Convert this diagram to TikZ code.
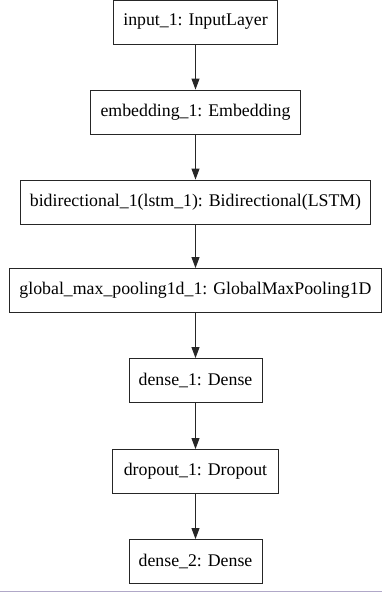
\documentclass[tikz,border=0pt]{standalone}
\usepackage{fontspec}
\setmainfont{Liberation Serif}
\usetikzlibrary{arrows.meta}
\begin{document}
\begin{tikzpicture}[x=1pt,y=-1pt,
  layer/.style={draw=black!85, line width=0.9pt, minimum height=44pt, inner xsep=9pt, inner ysep=0pt, font=\fontsize{17.8}{20}\selectfont, fill=white},
  flow/.style={draw=black!85, line width=0.9pt, -{Triangle[length=11pt,width=8pt]}}]
\useasboundingbox (0,0) rectangle (382,594);
\node[layer, minimum width=164pt] (in) at (195.5,22) {input\_1: InputLayer};
\node[layer, minimum width=210pt] (emb) at (195.5,112) {embedding\_1: Embedding};
\node[layer, minimum width=350pt] (bi) at (195.5,202) {bidirectional\_1(lstm\_1): Bidirectional(LSTM)};
\node[layer, minimum width=372pt] (gm) at (195.5,290.5) {global\_max\_pooling1d\_1: GlobalMaxPooling1D};
\node[layer, minimum width=133pt] (d1) at (195.5,380.5) {dense\_1: Dense};
\node[layer, minimum width=166pt] (dr) at (195.5,471.5) {dropout\_1: Dropout};
\node[layer, minimum width=133pt] (d2) at (195.5,561.5) {dense\_2: Dense};
\draw[flow] (in) -- (emb);
\draw[flow] (emb) -- (bi);
\draw[flow] (bi) -- (gm);
\draw[flow] (gm) -- (d1);
\draw[flow] (d1) -- (dr);
\draw[flow] (dr) -- (d2);
\coordinate (bl) at (0,591);
\coordinate (br) at (382,591);
\draw[color={rgb,255:red,176;green,168;blue,200}, line width=1pt] (bl) -- (br);
\end{tikzpicture}
\end{document}
